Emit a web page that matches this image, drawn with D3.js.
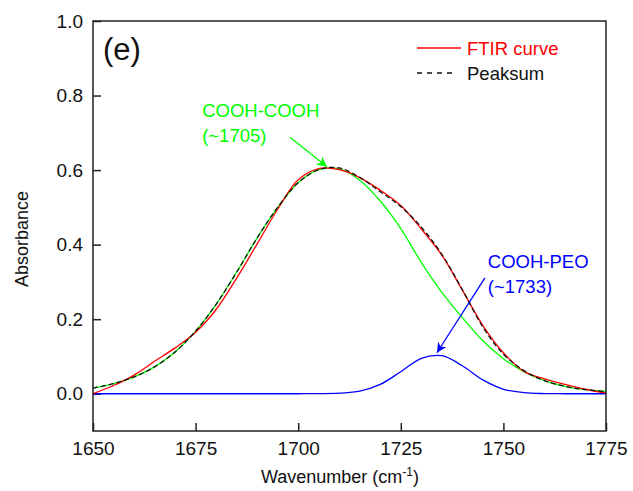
<!DOCTYPE html>
<html>
<head>
<meta charset="utf-8">
<script src="https://cdn.jsdelivr.net/npm/d3@7"></script>
<style>
  body { margin: 0; background: #fff; }
  text { font-family: Arial, "Liberation Sans", sans-serif; }
</style>
</head>
<body>
<svg id="svg1"></svg>
<script>
// wavenumber grid (cm-1)
const wavenumbers = [1650, 1655, 1660, 1665, 1670, 1675, 1680, 1685, 1690, 1695, 1700, 1705, 1710,
                     1715, 1720, 1725, 1730, 1735, 1740, 1745, 1750, 1755, 1760, 1765, 1770, 1775];
// measured spectrum
const ftirCurve = [0.000, 0.022, 0.050, 0.087, 0.123, 0.165, 0.226, 0.310, 0.402, 0.495, 0.574, 0.604, 0.601,
                   0.580, 0.546, 0.505, 0.442, 0.372, 0.278, 0.183, 0.110, 0.060, 0.040, 0.025, 0.012, 0.002];
// fitted sum
const peakSum = [0.015, 0.027, 0.045, 0.072, 0.112, 0.168, 0.240, 0.326, 0.418, 0.500, 0.566, 0.601, 0.606,
                 0.580, 0.542, 0.502, 0.447, 0.374, 0.279, 0.179, 0.106, 0.062, 0.035, 0.020, 0.011, 0.006];
// COOH-COOH component
const peakCoohCooh = [0.015, 0.027, 0.045, 0.072, 0.112, 0.168, 0.240, 0.326, 0.418, 0.500, 0.566, 0.601, 0.603,
                      0.573, 0.517, 0.443, 0.352, 0.272, 0.204, 0.142, 0.094, 0.059, 0.035, 0.020, 0.011, 0.006];
// COOH-PEO component
const peakCoohPeo = [0, 0, 0, 0, 0, 0, 0, 0, 0, 0, 0.000, 0.0002, 0.0014,
                     0.007, 0.025, 0.059, 0.095, 0.102, 0.075, 0.037, 0.012, 0.003, 0.0004, 0, 0, 0];

const xTicks = [1650, 1675, 1700, 1725, 1750, 1775];
const yTicks = [0.0, 0.2, 0.4, 0.6, 0.8, 1.0];

const svgWidth = 633;
const svgHeight = 491;
const margin = {left: 93, right: 27, top: 21, bottom: 60};

const svg = d3.select('#svg1')
    .attr('width', svgWidth)
    .attr('height', svgHeight)
    .style('background-color', '#fff');

const x = d3.scaleLinear()
    .domain([1650, 1775])
    .range([margin.left, svgWidth - margin.right]);
const y = d3.scaleLinear()
    .domain([-0.1, 1.0])
    .range([svgHeight - margin.bottom, margin.top]);

// axes, ticks pointing inwards
const xAxis = d3.axisBottom(x)
    .tickValues(xTicks)
    .tickFormat(d3.format('d'))
    .tickSizeInner(-8)
    .tickSizeOuter(0)
    .tickPadding(11);
const yAxis = d3.axisLeft(y)
    .tickValues(yTicks)
    .tickFormat(d3.format('.1f'))
    .tickSizeInner(-8)
    .tickSizeOuter(0)
    .tickPadding(10);

const gx = svg.append('g')
    .attr('transform', 'translate(0,' + y.range()[0] + ')')
    .call(xAxis);
const gy = svg.append('g')
    .attr('transform', 'translate(' + x.range()[0] + ',0)')
    .call(yAxis);

for (const g of [gx, gy]) {
    g.select('.domain').remove();
    g.selectAll('.tick line').attr('stroke', '#222').attr('stroke-width', 1.5);
    g.selectAll('.tick text')
        .attr('fill', '#111')
        .style('font-size', '19px')
        .style('font-family', 'Arial, "Liberation Sans", sans-serif');
}

// curves
const line = d3.line()
    .x(d => x(d[0]))
    .y(d => y(d[1]))
    .curve(d3.curveCatmullRom.alpha(0.5));

function series(values) {
    return wavenumbers.map((w, i) => [w, values[i]]);
}

svg.append('path')
    .attr('d', line(series(peakCoohCooh)))
    .attr('fill', 'none')
    .attr('stroke', '#00ff00')
    .attr('stroke-width', 1.3);
svg.append('path')
    .attr('d', line(series(peakCoohPeo)))
    .attr('fill', 'none')
    .attr('stroke', '#0000ff')
    .attr('stroke-width', 1.3);
svg.append('path')
    .attr('d', line(series(ftirCurve)))
    .attr('fill', 'none')
    .attr('stroke', '#ff0000')
    .attr('stroke-width', 1.3);
svg.append('path')
    .attr('d', line(series(peakSum)))
    .attr('fill', 'none')
    .attr('stroke', '#111')
    .attr('stroke-width', 1.3)
    .attr('stroke-dasharray', '5,3');

// frame
svg.append('rect')
    .attr('x', x.range()[0])
    .attr('y', y.range()[1])
    .attr('width', x.range()[1] - x.range()[0])
    .attr('height', y.range()[0] - y.range()[1])
    .attr('fill', 'none')
    .attr('stroke', '#222')
    .attr('stroke-width', 1.5);

// axis titles
svg.append('text')
    .attr('x', 340)
    .attr('y', 483)
    .attr('text-anchor', 'middle')
    .style('font-size', '18px')
    .attr('fill', '#111')
    .text('Wavenumber (cm')
    .call(t => t.append('tspan').attr('dy', -7).style('font-size', '12px').text('-1'))
    .call(t => t.append('tspan').attr('dy', 7).text(')'));

svg.append('text')
    .attr('transform', 'translate(28,239) rotate(-90)')
    .attr('text-anchor', 'middle')
    .style('font-size', '18px')
    .attr('fill', '#111')
    .text('Absorbance');

// panel label
svg.append('text')
    .attr('x', 103)
    .attr('y', 60)
    .style('font-size', '31px')
    .attr('fill', '#111')
    .text('(e)');

// legend
svg.append('line')
    .attr('x1', 417).attr('x2', 461)
    .attr('y1', 48).attr('y2', 48)
    .attr('stroke', '#ff0000')
    .attr('stroke-width', 1.3);
svg.append('text')
    .attr('x', 467).attr('y', 55)
    .style('font-size', '18.5px')
    .attr('fill', '#ff0000')
    .text('FTIR curve');
svg.append('line')
    .attr('x1', 417).attr('x2', 452)
    .attr('y1', 73).attr('y2', 73)
    .attr('stroke', '#111')
    .attr('stroke-width', 1.3)
    .attr('stroke-dasharray', '5,5');
svg.append('text')
    .attr('x', 467).attr('y', 80)
    .style('font-size', '18.5px')
    .attr('fill', '#111')
    .text('Peaksum');

// annotations with arrows (data units)
const annotations = [
    {lines: ['COOH-COOH', '(~1705)'], at: [1676.6, 0.742], from: [1698.0, 0.688], to: [1707.0, 0.609], color: '#00ff00', id: 'g'},
    {lines: ['COOH-PEO', '(~1733)'], at: [1746.2, 0.337], from: [1745.5, 0.311], to: [1733.8, 0.110], color: '#0000ff', id: 'b'}
];

const defs = svg.append('defs');
for (const a of annotations) {
    defs.append('marker')
        .attr('id', 'arrow-' + a.id)
        .attr('viewBox', '0 0 10 10')
        .attr('refX', 10).attr('refY', 5)
        .attr('markerWidth', 10).attr('markerHeight', 10)
        .attr('markerUnits', 'userSpaceOnUse')
        .attr('orient', 'auto')
        .append('path')
        .attr('d', 'M0,0 L10,5 L0,10 L3,5 Z')
        .attr('fill', a.color);

    svg.append('line')
        .attr('x1', x(a.from[0])).attr('y1', y(a.from[1]))
        .attr('x2', x(a.to[0])).attr('y2', y(a.to[1]))
        .attr('stroke', a.color)
        .attr('stroke-width', 1.3)
        .attr('marker-end', 'url(#arrow-' + a.id + ')');

    a.lines.forEach((s, i) => {
        svg.append('text')
            .attr('x', x(a.at[0]))
            .attr('y', y(a.at[1]) + i * 25)
            .style('font-size', '18.5px')
            .attr('fill', a.color)
            .text(s);
    });
}
</script>
</body>
</html>
